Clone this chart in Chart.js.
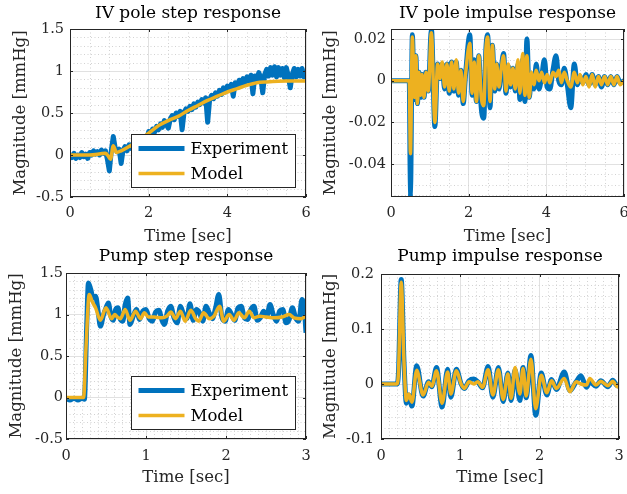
<!DOCTYPE html>
<html>
<head>
<meta charset="utf-8">
<script src="https://cdn.jsdelivr.net/npm/chart.js@4.4.1/dist/chart.umd.min.js"></script>
<style>
  body { margin: 0; background: #fff; }
  #wrap { position: relative; width: 627px; height: 494px; overflow: hidden; }
  canvas { position: absolute; }
</style>
</head>
<body>
<div id="wrap">
  <canvas id="ivStep" width="316" height="247" style="left:0;top:0"></canvas>
  <canvas id="ivImp" width="311" height="247" style="left:316px;top:0"></canvas>
  <canvas id="pumpStep" width="316" height="247" style="left:0;top:247px"></canvas>
  <canvas id="pumpImp" width="311" height="247" style="left:316px;top:247px"></canvas>
</div>
<script>
// ---- data ----
const seriesNames = ["Experiment", "Model"];

const ivStepExpT = [
  0, 0.05, 0.1, 0.15, 0.2, 0.25, 0.3, 0.35, 0.4, 0.45,
  0.5, 0.55, 0.6, 0.65, 0.7, 0.75, 0.8, 0.85, 0.9, 0.95,
  1, 1.05, 1.1, 1.15, 1.2, 1.25, 1.3, 1.35, 1.4, 1.45,
  1.5, 1.55, 1.6, 1.65, 1.7, 1.75, 1.8, 1.85, 1.9, 1.95,
  2, 2.05, 2.1, 2.15, 2.2, 2.25, 2.3, 2.35, 2.4, 2.45,
  2.5, 2.55, 2.6, 2.65, 2.7, 2.75, 2.8, 2.85, 2.9, 2.95,
  3, 3.05, 3.1, 3.15, 3.2, 3.25, 3.3, 3.35, 3.4, 3.45,
  3.5, 3.55, 3.6, 3.65, 3.7, 3.75, 3.8, 3.85, 3.9, 3.95,
  4, 4.05, 4.1, 4.15, 4.2, 4.25, 4.3, 4.35, 4.4, 4.45,
  4.5, 4.55, 4.6, 4.65, 4.7, 4.75, 4.8, 4.85, 4.9, 4.95,
  5, 5.05, 5.1, 5.15, 5.2, 5.25, 5.3, 5.35, 5.4, 5.45,
  5.5, 5.55, 5.6, 5.65, 5.7, 5.75, 5.8, 5.85, 5.9, 5.95,
  6
];
const ivStepExp = [
  0.01, -0.03, 0.02, -0.04, 0.00, -0.03, 0.03, -0.02, 0.01, -0.04,
  0.03, 0.00, 0.05, 0.01, 0.04, 0.00, 0.06, 0.02, 0.05, -0.05,
  -0.19, 0.05, 0.22, 0.08, 0.04, 0.07, -0.10, 0.06, 0.10, 0.05,
  0.12, 0.08, 0.14, 0.10, 0.17, 0.12, 0.19, 0.15, 0.22, 0.18,
  0.28, 0.24, 0.31, 0.27, 0.34, 0.30, 0.37, 0.33, 0.41, 0.36,
  0.32, 0.43, 0.47, 0.42, 0.50, 0.46, 0.52, 0.30, 0.51, 0.55,
  0.52, 0.58, 0.54, 0.61, 0.57, 0.63, 0.60, 0.66, 0.62, 0.68,
  0.39, 0.66, 0.71, 0.67, 0.74, 0.70, 0.77, 0.72, 0.80, 0.75,
  0.82, 0.78, 0.84, 0.70, 0.86, 0.82, 0.89, 0.84, 0.91, 0.86,
  0.93, 0.88, 0.95, 0.73, 0.94, 0.90, 0.98, 0.92, 0.74, 0.96,
  1.02, 0.94, 1.04, 0.95, 1.05, 0.93, 1.04, 0.95, 1.03, 0.92,
  1.04, 0.94, 0.80, 0.96, 1.03, 0.93, 1.02, 0.94, 1.03, 0.93,
  0.99
];
const ivStepModT = [0, 0.5, 0.9, 0.97, 1.03, 1.1, 1.18, 1.3, 1.5, 1.75, 2, 2.25, 2.5,
  2.75, 3, 3.25, 3.5, 3.75, 4, 4.25, 4.5, 4.75, 5, 5.5, 6];
const ivStepMod = [0, 0, 0.02, -0.01, -0.05, 0.11, 0.03, 0.05, 0.1, 0.17, 0.26, 0.35, 0.41,
  0.46, 0.53, 0.59, 0.65, 0.70, 0.75, 0.79, 0.83, 0.86, 0.87, 0.88, 0.88];

const ivImpT = [
  0, 0.47, 0.5, 0.55, 0.6, 0.64, 0.68, 0.72, 0.76, 0.8,
  0.85, 0.9, 0.96, 1.04, 1.13, 1.2, 1.26, 1.32, 1.38, 1.44,
  1.5, 1.56, 1.62, 1.68, 1.74, 1.8, 1.86, 1.92, 2.03, 2.09,
  2.14, 2.2, 2.26, 2.32, 2.39, 2.44, 2.49, 2.55, 2.61, 2.67,
  2.72, 2.78, 2.84, 2.9, 2.96, 3.02, 3.08, 3.14, 3.2, 3.27,
  3.32, 3.39, 3.45, 3.5, 3.56, 3.62, 3.68, 3.74, 3.81, 3.88,
  3.95, 4.02, 4.09, 4.17, 4.25, 4.32, 4.39, 4.46, 4.54, 4.63,
  4.72, 4.8, 4.87, 4.94, 5.02, 5.1, 5.18, 5.26, 5.34, 5.42,
  5.5, 5.58, 5.66, 5.74, 5.82, 5.9, 6
];
const ivImpExp = [
  0, 0, -0.056, 0.022, -0.009, 0.012, -0.011, 0.004, -0.008, 0.003,
  -0.008, 0.004, -0.005, 0.025, -0.022, 0.008, 0.001, 0.008, -0.004, 0.008,
  -0.006, 0.009, -0.005, 0.009, -0.007, 0.005, -0.011, 0.003, 0.022, -0.007,
  0.01, -0.01, 0.012, -0.012, -0.018, 0.014, 0.022, -0.013, 0.017, -0.005,
  0.008, -0.004, 0.006, 0.013, -0.006, 0.007, -0.003, 0.006, -0.005, 0.008,
  -0.009, 0.01, -0.01, 0.02, -0.008, 0.003, -0.004, 0.008, -0.004, 0.002,
  0.01, -0.003, -0.004, 0.005, 0.012, 0.0, -0.002, 0.006, -0.002, -0.013,
  0.008, -0.002, 0.002, -0.001, 0.003, -0.002, 0.003, -0.002, 0.002, -0.003,
  0.002, -0.002, 0.002, -0.002, 0.002, -0.001, 0
];
const ivImpMod = [
  0, 0, -0.035, 0.021, -0.008, 0.012, -0.011, 0.004, -0.007, 0.003,
  -0.008, 0.004, -0.005, 0.023, -0.02, 0.008, 0.001, 0.009, -0.003, 0.008,
  -0.005, 0.009, -0.004, 0.01, -0.006, 0.005, -0.01, 0.003, 0.018, -0.006,
  0.009, -0.01, 0.012, -0.007, -0.012, 0.014, 0.021, -0.01, 0.017, -0.004,
  0.008, -0.003, 0.006, 0.012, -0.005, 0.008, -0.002, 0.006, -0.004, 0.01,
  -0.006, 0.013, -0.007, 0.012, -0.008, 0.004, -0.002, 0.005, 0.0, 0.004,
  -0.001, 0.003, -0.001, 0.004, 0.002, 0.005, -0.001, 0.004, 0.0, -0.003,
  0.004, -0.001, 0.003, -0.002, 0.002, -0.003, 0.003, -0.003, 0.002, -0.002,
  0.002, -0.002, 0.002, -0.002, 0.002, -0.002, 0
];

const pumpStepExpT = [
  0, 0.05, 0.1, 0.15, 0.2, 0.23, 0.26, 0.28, 0.31, 0.34,
  0.37, 0.4, 0.43, 0.47, 0.5, 0.53, 0.56, 0.59, 0.62, 0.65,
  0.68, 0.71, 0.74, 0.77, 0.8, 0.84, 0.88, 0.92, 0.96, 1.0,
  1.04, 1.08, 1.12, 1.16, 1.2, 1.23, 1.27, 1.31, 1.35, 1.39,
  1.43, 1.47, 1.51, 1.55, 1.59, 1.63, 1.67, 1.71, 1.75, 1.79,
  1.83, 1.87, 1.91, 1.95, 1.99, 2.03, 2.07, 2.11, 2.15, 2.19,
  2.23, 2.27, 2.31, 2.35, 2.39, 2.43, 2.47, 2.51, 2.55, 2.59,
  2.63, 2.67, 2.71, 2.75, 2.79, 2.83, 2.87, 2.91, 2.95, 2.98,
  3
];
const pumpStepExp = [
  -0.01, -0.03, -0.01, -0.03, -0.01, -0.02, 0.9, 1.38, 1.3, 1.2,
  1.22, 1.05, 0.86, 1.0, 1.08, 1.14, 0.98, 0.93, 1.06, 1.08,
  0.94, 0.92, 1.12, 1.2, 0.88, 0.98, 1.06, 0.94, 1.04, 1.06,
  0.95, 0.92, 1.03, 1.05, 0.93, 0.88, 1.04, 1.1, 0.96, 0.9,
  1.1, 1.0, 0.95, 1.13, 0.93, 1.06, 1.02, 0.92, 1.1, 1.02,
  0.95, 1.08, 1.24, 0.96, 0.92, 1.06, 1.0, 0.93, 1.08, 1.1,
  0.96, 0.94, 1.06, 1.1, 0.93, 0.96, 1.04, 0.98, 1.12, 1.0,
  0.92, 1.04, 1.06, 0.9, 0.94, 1.08, 0.96, 0.92, 1.18, 1.05,
  0.78
];
const pumpStepModT = [
  0, 0.22, 0.25, 0.29, 0.33, 0.37, 0.43, 0.5, 0.57, 0.61,
  0.64, 0.68, 0.74, 0.8, 0.87, 0.93, 0.98, 1.03, 1.1, 1.2,
  1.26, 1.31, 1.37, 1.43, 1.49, 1.56, 1.62, 1.66, 1.72, 1.79,
  1.85, 1.92, 1.97, 2.04, 2.1, 2.16, 2.23, 2.29, 2.35, 2.42,
  2.5, 2.6, 2.7, 2.79, 2.85, 2.94, 3
];
const pumpStepMod = [
  0, 0, 0.6, 1.24, 1.15, 1.08, 0.93, 1.08, 0.95, 1.0,
  0.97, 0.95, 1.06, 0.93, 1.04, 0.95, 1.02, 0.97, 0.97, 0.96,
  0.98, 1.03, 0.95, 1.04, 0.92, 1.05, 0.95, 0.92, 1.02, 0.95,
  0.98, 1.1, 0.92, 1.0, 0.93, 1.02, 0.96, 1.04, 0.96, 0.98,
  0.97, 0.96, 0.97, 1.0, 0.96, 0.95, 0.98
];

const pumpImpT = [
  0, 0.2, 0.22, 0.255, 0.29, 0.32, 0.35, 0.39, 0.45, 0.53,
  0.6, 0.64, 0.7, 0.77, 0.84, 0.88, 0.95, 1.01, 1.05, 1.11,
  1.17, 1.22, 1.28, 1.35, 1.41, 1.48, 1.54, 1.6, 1.64, 1.69,
  1.75, 1.79, 1.83, 1.89, 1.95, 2.02, 2.09, 2.15, 2.21, 2.31,
  2.38, 2.46, 2.52, 2.59, 2.63, 2.71, 2.77, 2.86, 2.92, 2.98,
  3
];
const pumpImpExp = [
  0, 0, 0.02, 0.19, 0.04, -0.035, -0.02, -0.04, 0.033, -0.022,
  0.004, -0.005, 0.03, -0.042, 0.027, -0.024, 0.027, 0.0, -0.008, 0.006,
  0.009, 0.004, -0.007, 0.032, -0.024, 0.03, -0.032, 0.02, -0.03, 0.026,
  -0.03, 0.03, -0.025, 0.052, -0.057, 0.02, -0.02, 0.008, -0.01, 0.022,
  -0.012, 0.004, 0.015, -0.006, 0.004, -0.004, 0.006, -0.005, 0.007, -0.003,
  0
];
const pumpImpMod = [
  0, 0, 0.02, 0.185, 0.04, -0.03, -0.018, -0.033, 0.025, -0.02,
  0.003, -0.004, 0.024, -0.035, 0.022, -0.018, 0.024, 0.0, -0.008, 0.004,
  0.0, 0.004, -0.006, 0.026, -0.02, 0.026, -0.028, 0.018, -0.026, 0.03,
  -0.018, 0.028, -0.022, 0.045, -0.045, 0.016, -0.016, 0.006, -0.008, 0.01,
  -0.014, 0.004, 0.0, -0.002, 0.01, -0.002, 0.005, -0.003, 0.005, -0.005,
  0
];

// axis ticks and labels
const xTicks6 = [0, 2, 4, 6];
const xLabels6 = ["0", "2", "4", "6"];
const xTicks3 = [0, 1, 2, 3];
const xLabels3 = ["0", "1", "2", "3"];
const stepYTicks = [-0.5, 0, 0.5, 1, 1.5];
const stepYLabels = ["-0.5", "0", "0.5", "1", "1.5"];
const ivImpYTicks = [-0.04, -0.02, 0, 0.02];
const ivImpYLabels = ["-0.04", "-0.02", "0", "0.02"];
const pumpImpYTicks = [-0.1, 0, 0.1, 0.2];
const pumpImpYLabels = ["-0.1", "0", "0.1", "0.2"];

// ---- styling ----
const BLUE = "#0072BD";
const YELLOW = "#EDB120";
const AXIS = "#262626";
const FONT = "'DejaVu Serif', serif";

function xy(t, v) {
  return t.map((x, i) => ({ x: x, y: v[i] }));
}

function isMajor(v, ticks, step) {
  return ticks.some((t) => Math.abs(t - v) < step / 10);
}

const matlabAxes = {
  id: "matlabAxes",
  beforeDatasetsDraw(chart, args, o) {
    const { ctx, chartArea: a, scales } = chart;
    ctx.save();
    ctx.strokeStyle = "#d2d2d2";
    ctx.lineWidth = 1;
    ctx.setLineDash([1, 2.5]);
    const xs = scales.x, ys = scales.y;
    for (let k = Math.ceil(xs.min / o.xMinor - 1e-9); k * o.xMinor <= xs.max + 1e-9; k++) {
      const v = k * o.xMinor;
      if (isMajor(v, o.xTicks, o.xMinor)) continue;
      const px = Math.round(xs.getPixelForValue(v)) + 0.5;
      ctx.beginPath();
      ctx.moveTo(px, a.top);
      ctx.lineTo(px, a.bottom);
      ctx.stroke();
    }
    for (let k = Math.ceil(ys.min / o.yMinor - 1e-9); k * o.yMinor <= ys.max + 1e-9; k++) {
      const v = k * o.yMinor;
      if (isMajor(v, o.yTicks, o.yMinor)) continue;
      const py = Math.round(ys.getPixelForValue(v)) + 0.5;
      ctx.beginPath();
      ctx.moveTo(a.left, py);
      ctx.lineTo(a.right, py);
      ctx.stroke();
    }
    ctx.restore();
  },
  afterDraw(chart, args, o) {
    const { ctx, chartArea: a, scales } = chart;
    ctx.save();
    ctx.setLineDash([]);
    // axes box
    ctx.strokeStyle = AXIS;
    ctx.lineWidth = 1;
    ctx.strokeRect(a.left + 0.5, a.top + 0.5, a.right - a.left - 1, a.bottom - a.top - 1);
    // inward tick marks
    ctx.beginPath();
    o.xTicks.forEach((v) => {
      const px = Math.round(scales.x.getPixelForValue(v)) + 0.5;
      ctx.moveTo(px, a.bottom);
      ctx.lineTo(px, a.bottom - 3);
      ctx.moveTo(px, a.top);
      ctx.lineTo(px, a.top + 3);
    });
    o.yTicks.forEach((v) => {
      const py = Math.round(scales.y.getPixelForValue(v)) + 0.5;
      ctx.moveTo(a.left, py);
      ctx.lineTo(a.left + 3, py);
      ctx.moveTo(a.right, py);
      ctx.lineTo(a.right - 3, py);
    });
    ctx.stroke();

    // legend box in the lower right corner
    if (o.legend) {
      const w = 164, h = 53;
      const bx = Math.round(a.right - 11 - w) + 0.5;
      const by = Math.round(a.bottom - 10 - h) + 0.5;
      ctx.fillStyle = "#fff";
      ctx.fillRect(bx, by, w, h);
      ctx.strokeStyle = AXIS;
      ctx.lineWidth = 1;
      ctx.strokeRect(bx, by, w, h);
      chart.data.datasets.forEach((ds, i) => {
        const ly = by + 14 + i * 25;
        ctx.strokeStyle = ds.borderColor;
        ctx.lineWidth = ds.borderWidth;
        ctx.beginPath();
        ctx.moveTo(bx + 7, ly);
        ctx.lineTo(bx + 53, ly);
        ctx.stroke();
        ctx.fillStyle = "#000";
        ctx.font = "16.5px " + FONT;
        ctx.textAlign = "left";
        ctx.textBaseline = "middle";
        ctx.fillText(ds.label, bx + 59, ly + 1);
      });
    }

    // title
    ctx.fillStyle = "#000";
    ctx.font = "17px " + FONT;
    ctx.textAlign = "center";
    ctx.textBaseline = "middle";
    ctx.fillText(o.title, (a.left + a.right) / 2, o.titleY);
    ctx.restore();
  },
};

function makePanel(id, p) {
  const ctx = document.getElementById(id).getContext("2d");
  return new Chart(ctx, {
    type: "line",
    data: {
      datasets: [
        {
          label: seriesNames[0],
          data: xy(p.expT, p.exp),
          borderColor: BLUE,
          borderWidth: 5,
          tension: 0,
          cubicInterpolationMode: p.expSmooth ? "monotone" : "default",
          borderJoinStyle: "round",
          pointRadius: 0,
          clip: 0,
          order: 2,
        },
        {
          label: seriesNames[1],
          data: xy(p.modT, p.mod),
          borderColor: YELLOW,
          borderWidth: 3.5,
          cubicInterpolationMode: "monotone",
          borderJoinStyle: "round",
          pointRadius: 0,
          clip: 0,
          order: 1,
        },
      ],
    },
    options: {
      responsive: false,
      animation: false,
      layout: {
        padding: { left: 0, right: p.padRight, top: p.top, bottom: 0 },
      },
      plugins: {
        legend: { display: false },
        tooltip: { enabled: false },
        title: { display: false },
        matlabAxes: {
          title: p.title,
          titleY: p.titleY,
          legend: p.legend,
          xTicks: p.xTicks,
          yTicks: p.yTicks,
          xMinor: p.xMinor,
          yMinor: p.yMinor,
        },
      },
      scales: {
        x: {
          type: "linear",
          min: p.xMin,
          max: p.xMax,
          afterBuildTicks: (s) => {
            s.ticks = p.xTicks.map((v) => ({ value: v }));
          },
          afterFit: (s) => {
            s.height = p.xAxisH;
            s.paddingLeft = 0;
            s.paddingRight = 0;
          },
          ticks: {
            autoSkip: false,
            maxRotation: 0,
            minRotation: 0,
            padding: p.xTickPad,
            color: AXIS,
            font: { family: FONT, size: 14.5 },
            callback: (v, i) => p.xLabels[i],
          },
          grid: { color: "#e1e1e1", lineWidth: 1, drawTicks: false },
          border: { display: false },
          title: {
            display: true,
            text: "Time [sec]",
            color: AXIS,
            font: { family: FONT, size: 16.5 },
            padding: { top: 0, bottom: p.xTitlePad },
          },
        },
        y: {
          type: "linear",
          min: p.yMin,
          max: p.yMax,
          afterBuildTicks: (s) => {
            s.ticks = p.yTicks.map((v) => ({ value: v }));
          },
          afterFit: (s) => {
            s.width = p.left;
            s.paddingTop = 0;
            s.paddingBottom = 0;
          },
          ticks: {
            autoSkip: false,
            padding: p.yTickPad,
            color: AXIS,
            font: { family: FONT, size: 14.5 },
            callback: (v, i) => p.yLabels[i],
          },
          grid: { color: "#e1e1e1", lineWidth: 1, drawTicks: false },
          border: { display: false },
          title: {
            display: true,
            text: "Magnitude [mmHg]",
            color: AXIS,
            font: { family: FONT, size: 16.5 },
            padding: { top: p.yTitlePad, bottom: 0 },
          },
        },
      },
    },
    plugins: [matlabAxes],
  });
}

makePanel("ivStep", {
  title: "IV pole step response", titleY: 14, legend: true,
  expT: ivStepExpT, exp: ivStepExp, modT: ivStepModT, mod: ivStepMod, expSmooth: false,
  xMin: 0, xMax: 6, xTicks: xTicks6, xLabels: xLabels6, xMinor: 0.5,
  yMin: -0.5, yMax: 1.5, yTicks: stepYTicks, yLabels: stepYLabels, yMinor: 0.1,
  left: 70, padRight: 10, top: 29, xAxisH: 50,
  xTickPad: 8, xTitlePad: 0, yTickPad: 6, yTitlePad: 11,
});

makePanel("ivImp", {
  title: "IV pole impulse response", titleY: 14, legend: false,
  expT: ivImpT, exp: ivImpExp, modT: ivImpT, mod: ivImpMod, expSmooth: true,
  xMin: 0, xMax: 6, xTicks: xTicks6, xLabels: xLabels6, xMinor: 0.5,
  yMin: -0.0558, yMax: 0.0248, yTicks: ivImpYTicks, yLabels: ivImpYLabels, yMinor: 0.005,
  left: 75, padRight: 3, top: 29, xAxisH: 50,
  xTickPad: 8, xTitlePad: 0, yTickPad: 5, yTitlePad: 5,
});

makePanel("pumpStep", {
  title: "Pump step response", titleY: 10, legend: true,
  expT: pumpStepExpT, exp: pumpStepExp, modT: pumpStepModT, mod: pumpStepMod, expSmooth: true,
  xMin: 0, xMax: 3, xTicks: xTicks3, xLabels: xLabels3, xMinor: 0.1,
  yMin: -0.5, yMax: 1.5, yTicks: stepYTicks, yLabels: stepYLabels, yMinor: 0.1,
  left: 66, padRight: 10, top: 26, xAxisH: 55,
  xTickPad: 8.5, xTitlePad: 6, yTickPad: 3, yTitlePad: 7,
});

makePanel("pumpImp", {
  title: "Pump impulse response", titleY: 10, legend: false,
  expT: pumpImpT, exp: pumpImpExp, modT: pumpImpT, mod: pumpImpMod, expSmooth: true,
  xMin: 0, xMax: 3, xTicks: xTicks3, xLabels: xLabels3, xMinor: 0.1,
  yMin: -0.1, yMax: 0.2, yTicks: pumpImpYTicks, yLabels: pumpImpYLabels, yMinor: 0.02,
  left: 65, padRight: 8, top: 27, xAxisH: 55,
  xTickPad: 8.5, xTitlePad: 6, yTickPad: 7, yTitlePad: 5,
});
</script>
</body>
</html>
